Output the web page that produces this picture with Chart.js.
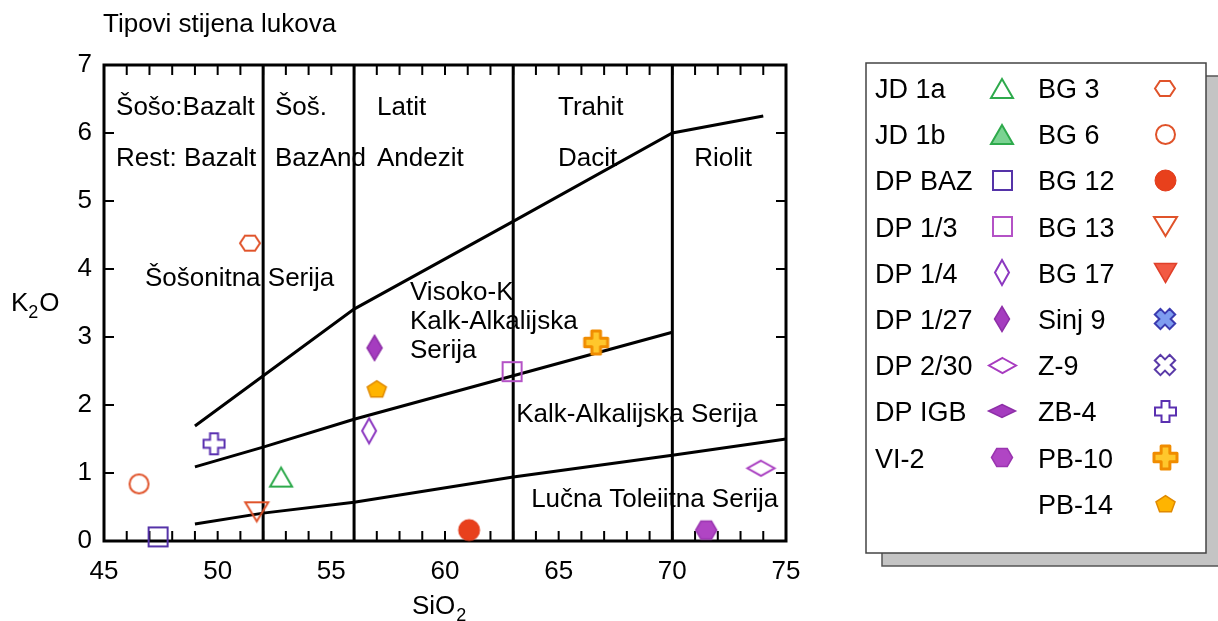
<!DOCTYPE html>
<html><head><meta charset="utf-8">
<script src="https://cdn.jsdelivr.net/npm/chart.js@4.4.1/dist/chart.umd.min.js"></script>
<style>html,body{margin:0;padding:0;background:#fff;}</style>
</head><body>
<canvas id="c" width="1218" height="621"></canvas>
<script>
// ---------- data ----------
const chartTitle = 'Tipovi stijena lukova';
const xTitle = ['SiO', '2'];
const yTitle = ['K', '2', 'O'];
const xTickValues = [45, 50, 55, 60, 65, 70, 75];
const yTickValues = [0, 1, 2, 3, 4, 5, 6, 7];

const seriesNames = ['JD 1a','JD 1b','DP BAZ','DP 1/3','DP 1/4','DP 1/27','DP 2/30','DP IGB','VI-2',
  'BG 3','BG 6','BG 12','BG 13','BG 17','Sinj 9','Z-9','ZB-4','PB-10','PB-14'];
const sio2Values = [[52.79],[],[47.38],[62.95],[56.66],[56.9],[73.9],[],[71.49],
  [51.42],[46.54],[61.06],[51.72],[],[],[],[49.84],[66.65],[57.0]];
const k2oValues = [[0.94],[],[0.06],[2.49],[1.62],[2.84],[1.07],[],[0.16],
  [4.38],[0.84],[0.16],[0.43],[],[],[],[1.43],[2.92],[2.24]];

// boundary lines (Peccerillo & Taylor)
const shoBoundarySiO2 = [49, 56, 63, 70, 74];
const shoBoundaryK2O  = [1.69, 3.41, 4.70, 6.0, 6.25];
const hkBoundarySiO2  = [49, 52, 56, 63, 70];
const hkBoundaryK2O   = [1.09, 1.38, 1.79, 2.43, 3.07];
const thBoundarySiO2  = [49, 52, 56, 63, 70, 75];
const thBoundaryK2O   = [0.25, 0.41, 0.57, 0.94, 1.26, 1.5];
const divisionSiO2    = [52, 56, 63, 70];
const divisionK2O     = [0, 7];

// region labels: text, SiO2 (left edge), K2O (baseline)
const regionTexts = ['Šošo:Bazalt','Rest: Bazalt','Šoš.','BazAnd','Latit','Andezit','Trahit','Dacit','Riolit',
  'Šošonitna Serija','Visoko-K','Kalk-Alkalijska','Serija','Kalk-Alkalijska Serija','Lučna Toleiitna Serija'];
const regionSiO2 = [45.53,45.53,52.52,52.52,57.01,57.01,64.97,64.97,70.96,46.8,58.46,58.46,58.46,63.13,63.79];
const regionK2O  = [6.27,5.52,6.27,5.52,6.27,5.52,6.27,5.52,5.52,3.75,3.54,3.12,2.69,1.75,0.5];

// ---------- styles ----------
const FONT = '"Liberation Sans", Arial, Helvetica, sans-serif';
const GREEN = '#2eaa4c', PURPLE_D = '#5533a8', MAG = '#a83cc0', ORANGE = '#e0532a';
const markerDefs = [
  ['triUp', 22, 19, null, GREEN, 2],
  ['triUp', 22, 19, '#7bd392', GREEN, 2],
  ['square', 19, 19, null, PURPLE_D, 2],
  ['square', 19, 19, null, '#b452c6', 2],
  ['diamond', 14, 25, null, '#8c38c0', 2],
  ['diamond', 15, 25, '#a53cbf', '#8e2fa8', 1.5],
  ['diamond', 27, 15, null, MAG, 2],
  ['diamond', 27, 13, '#a53cbf', '#8e2fa8', 1.5],
  ['hexagon', 21, 18, '#b045c4', '#9a35b0', 1.5],
  ['hexagon', 20, 15, null, ORANGE, 2],
  ['circle', 19, 19, null, ORANGE, 2],
  ['circle', 21, 21, '#e8401c', '#e03818', 1],
  ['triDown', 23, 19, null, ORANGE, 2],
  ['triDown', 22, 19, '#f25a44', '#e0402a', 1.5],
  ['xcross', 22, 22, '#7e9df0', '#3b3bb0', 2],
  ['xcrossO', 22, 22, '#ffffff', '#5a3aa8', 2],
  ['plus', 21, 21, null, '#5a30b0', 2],
  ['plusR', 23, 23, '#ffc72c', '#f08c00', 2],
  ['pentagon', 20, 18, '#ffb400', '#e08a00', 1.5]
];

function shapePath(ctx, shape, w, h) {
  ctx.beginPath();
  const pts = [];
  if (shape === 'triUp') pts.push([0,-h/2],[w/2,h/2],[-w/2,h/2]);
  else if (shape === 'triDown') pts.push([0,h/2],[w/2,-h/2],[-w/2,-h/2]);
  else if (shape === 'square') pts.push([-w/2,-h/2],[w/2,-h/2],[w/2,h/2],[-w/2,h/2]);
  else if (shape === 'diamond') pts.push([0,-h/2],[w/2,0],[0,h/2],[-w/2,0]);
  else if (shape === 'hexagon') pts.push([-w/2,0],[-w/4,-h/2],[w/4,-h/2],[w/2,0],[w/4,h/2],[-w/4,h/2]);
  else if (shape === 'pentagon') {
    for (let k = 0; k < 5; k++) { const a = -Math.PI/2 + k*2*Math.PI/5; pts.push([Math.cos(a)*w/2, Math.sin(a)*h/2 + h*0.06]); }
  } else if (shape === 'plus' || shape === 'plusR' || shape === 'xcross' || shape === 'xcrossO') {
    const s = w/2, t = w*0.19;
    const base = [[-t,-s],[t,-s],[t,-t],[s,-t],[s,t],[t,t],[t,s],[-t,s],[-t,t],[-s,t],[-s,-t],[-t,-t]];
    const rot = (shape === 'xcross' || shape === 'xcrossO') ? Math.PI/4 : 0;
    const sc = rot ? 0.95 : 1;
    base.forEach(p => pts.push([sc*(p[0]*Math.cos(rot)-p[1]*Math.sin(rot)), sc*(p[0]*Math.sin(rot)+p[1]*Math.cos(rot))]));
  }
  if (shape === 'circle') { ctx.arc(0,0,w/2,0,Math.PI*2); return; }
  pts.forEach((p,i) => i ? ctx.lineTo(p[0],p[1]) : ctx.moveTo(p[0],p[1]));
  ctx.closePath();
}

function makeMarker(def) {
  const [shape, w, h, fill, stroke, lw] = def;
  const cv = document.createElement('canvas');
  cv.width = Math.ceil(w + lw*2 + 4); cv.height = Math.ceil(h + lw*2 + 4);
  const ctx = cv.getContext('2d');
  ctx.translate(cv.width/2, cv.height/2);
  ctx.lineJoin = (shape === 'plusR') ? 'round' : 'miter';
  shapePath(ctx, shape, w, h);
  if (fill) { ctx.fillStyle = fill; ctx.fill(); }
  ctx.lineWidth = shape === 'plusR' ? 3 : lw; ctx.strokeStyle = stroke; ctx.stroke();
  return cv;
}
const markerImgs = markerDefs.map(makeMarker);

// ---------- datasets ----------
const datasets = [];
seriesNames.forEach((name, i) => {
  datasets.push({
    label: name,
    data: sio2Values[i].map((x, j) => ({x: x, y: k2oValues[i][j]})),
    pointStyle: markerImgs[i], pointRadius: 10, showLine: false, clip: false, order: 0
  });
});
function lineDS(xs, ys) {
  return { label: '', data: xs.map((x, j) => ({x: x, y: ys[j]})), showLine: true, pointRadius: 0,
    borderColor: '#000', borderWidth: 3, fill: false, order: 1, clip: false };
}
datasets.push(lineDS(shoBoundarySiO2, shoBoundaryK2O));
datasets.push(lineDS(hkBoundarySiO2, hkBoundaryK2O));
datasets.push(lineDS(thBoundarySiO2, thBoundaryK2O));
divisionSiO2.forEach(x => datasets.push(lineDS([x, x], divisionK2O)));

// ---------- plugin ----------
const decor = {
  id: 'decor',
  beforeDatasetsDraw(chart) {
    const {ctx, chartArea: a, scales: {x, y}} = chart;
    ctx.save();
    ctx.strokeStyle = '#000';
    ctx.lineWidth = 2;
    ctx.beginPath();
    for (let v = 46; v < 75; v++) {
      const px = x.getPixelForValue(v);
      ctx.moveTo(px, a.bottom); ctx.lineTo(px, a.bottom - 10);
      ctx.moveTo(px, a.top); ctx.lineTo(px, a.top + 10);
    }
    for (let v = 1; v < 7; v++) {
      const py = y.getPixelForValue(v);
      ctx.moveTo(a.left, py); ctx.lineTo(a.left + 10, py);
      ctx.moveTo(a.right, py); ctx.lineTo(a.right - 10, py);
    }
    ctx.stroke();
    ctx.lineWidth = 3;
    ctx.strokeRect(a.left, a.top, a.right - a.left, a.bottom - a.top);
    // region labels
    ctx.fillStyle = '#000';
    ctx.font = '26px ' + FONT;
    ctx.textBaseline = 'alphabetic';
    ctx.textAlign = 'left';
    regionTexts.forEach((t, i) => ctx.fillText(t, x.getPixelForValue(regionSiO2[i]), y.getPixelForValue(regionK2O[i])));
    ctx.restore();
  },
  afterDraw(chart) {
    const {ctx} = chart;
    ctx.save();
    ctx.fillStyle = '#000';
    ctx.textBaseline = 'alphabetic';
    ctx.textAlign = 'left';
    ctx.font = '26px ' + FONT;
    ctx.fillText(chartTitle, 103, 32);
    // y title
    let xx = 11;
    ctx.fillText(yTitle[0], xx, 311); xx += ctx.measureText(yTitle[0]).width;
    ctx.font = '18px ' + FONT; ctx.fillText(yTitle[1], xx, 318); xx += ctx.measureText(yTitle[1]).width + 1;
    ctx.font = '26px ' + FONT; ctx.fillText(yTitle[2], xx, 311);
    // x title
    xx = 412;
    ctx.fillText(xTitle[0], xx, 614); xx += ctx.measureText(xTitle[0]).width + 1;
    ctx.font = '18px ' + FONT; ctx.fillText(xTitle[1], xx, 621);
    // legend
    const L = 866, T = 63, R = 1206, B = 553, off = 13;
    ctx.fillStyle = '#c4c4c4';
    ctx.fillRect(L + off + 3, T + off, R - L, B - T);
    ctx.strokeStyle = '#555'; ctx.lineWidth = 1.5;
    ctx.strokeRect(L + off + 3, T + off, R - L, B - T);
    ctx.fillStyle = '#fff';
    ctx.fillRect(L, T, R - L, B - T);
    ctx.strokeStyle = '#444'; ctx.lineWidth = 1.5;
    ctx.strokeRect(L, T, R - L, B - T);
    ctx.font = '27px ' + FONT;
    ctx.fillStyle = '#000';
    const rowH = 46.2, base0 = 98;
    seriesNames.forEach((name, i) => {
      const col = i < 9 ? 0 : 1;
      const row = col ? i - 9 : i;
      const tx = col ? 1038 : 875, mx = col ? 1165 : 1002;
      const by = base0 + row * rowH;
      ctx.fillText(name, tx, by);
      const img = markerImgs[i];
      ctx.drawImage(img, Math.round(mx - img.width/2), Math.round(by - 10 - img.height/2));
    });
    ctx.restore();
  }
};

new Chart(document.getElementById('c'), {
  type: 'scatter',
  data: { datasets },
  options: {
    responsive: false, animation: false, devicePixelRatio: 1, events: [],
    layout: { padding: { left: 0, top: 65, right: 432, bottom: 0 } },
    plugins: { legend: { display: false }, tooltip: { enabled: false }, title: { display: false } },
    scales: {
      x: {
        type: 'linear', min: 45, max: 75,
        afterBuildTicks: s => { s.ticks = xTickValues.map(v => ({value: v})); },
        afterFit: s => { s.height = 80; },
        grid: { display: false, drawTicks: false }, border: { display: false },
        ticks: { color: '#000', font: { size: 26, family: FONT }, padding: 15, maxRotation: 0, autoSkip: false }
      },
      y: {
        type: 'linear', min: 0, max: 7,
        afterBuildTicks: s => { s.ticks = yTickValues.map(v => ({value: v})); },
        afterFit: s => { s.width = 104; },
        grid: { display: false, drawTicks: false }, border: { display: false },
        ticks: { color: '#000', font: { size: 26, family: FONT }, padding: 12, autoSkip: false }
      }
    }
  },
  plugins: [decor]
});
</script>
</body></html>
